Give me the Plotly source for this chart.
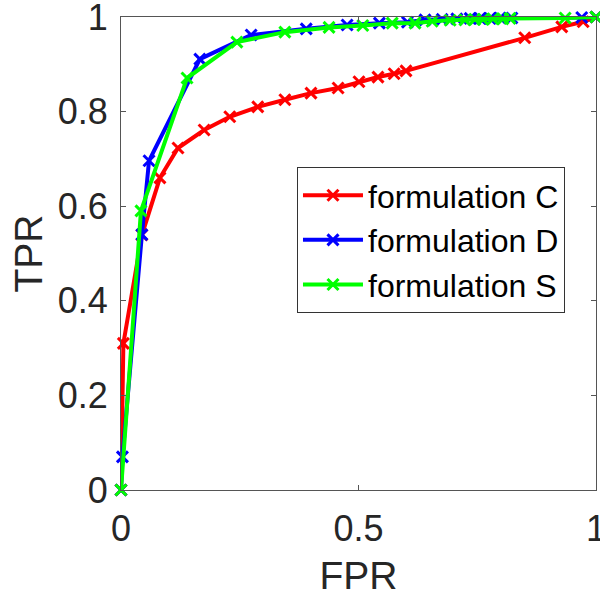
import plotly.graph_objects as go

names = ["formulation C", "formulation D", "formulation S"]
colors = ["#ff0000", "#0000ff", "#00ff00"]

fpr_c = [0.0, 0.005, 0.044, 0.082, 0.120, 0.175, 0.229, 0.288, 0.345, 0.400, 0.457, 0.501, 0.541, 0.575, 0.600, 0.850, 0.928, 0.973, 1.0]
tpr_c = [0.0, 0.31, 0.539, 0.660, 0.723, 0.761, 0.789, 0.810, 0.825, 0.839, 0.850, 0.863, 0.873, 0.880, 0.886, 0.956, 0.979, 0.990, 1.0]

fpr_d = [0.0, 0.003, 0.044, 0.059, 0.166, 0.274, 0.390, 0.476, 0.544, 0.603, 0.640, 0.676, 0.707, 0.735, 0.756, 0.777, 0.798, 0.823, 0.970, 1.0]
tpr_d = [0.0, 0.070, 0.540, 0.696, 0.911, 0.962, 0.975, 0.983, 0.987, 0.989, 0.994, 0.995, 0.996, 0.997, 0.997, 0.997, 0.998, 0.998, 0.999, 1.0]

fpr_s = [0.0, 0.042, 0.139, 0.244, 0.345, 0.438, 0.509, 0.571, 0.619, 0.655, 0.693, 0.724, 0.745, 0.762, 0.783, 0.804, 0.819, 0.935, 1.0]
tpr_s = [0.0, 0.590, 0.871, 0.947, 0.968, 0.978, 0.982, 0.987, 0.987, 0.991, 0.993, 0.994, 0.995, 0.995, 0.996, 0.996, 0.997, 0.998, 1.0]

x_ticks = [0, 0.5, 1]
x_tick_text = ["0", "0.5", "1"]
y_ticks = [0, 0.2, 0.4, 0.6, 0.8, 1]
y_tick_text = ["0", "0.2", "0.4", "0.6", "0.8", "1"]

FONT = "Liberation Sans, Arial, Helvetica, sans-serif"
TXT = "#262626"

fig = go.Figure()
for name, col, xs, ys in zip(names, colors, [fpr_c, fpr_d, fpr_s], [tpr_c, tpr_d, tpr_s]):
    fig.add_trace(go.Scatter(
        x=xs, y=ys, mode="lines+markers", name=name,
        line=dict(color=col, width=4),
        marker=dict(symbol="x-thin", size=11, color=col, line=dict(color=col, width=3)),
        cliponaxis=False,
    ))

axis_common = dict(
    showgrid=False, zeroline=False, automargin=False,
    showline=True, linecolor="#555555", linewidth=1, mirror="ticks",
    ticks="inside", ticklen=5, tickcolor="#555555", tickwidth=1,
    tickfont=dict(family=FONT, size=36, color=TXT),
    ticklabeloverflow="allow",
)

fig.update_layout(
    width=600, height=599,
    margin=dict(l=121, r=4, t=17, b=109),
    paper_bgcolor="white", plot_bgcolor="white",
    font=dict(family=FONT, color=TXT),
    xaxis=dict(range=[0, 1], tickvals=x_ticks, ticktext=x_tick_text,
               title=dict(text="FPR", font=dict(family=FONT, size=39, color=TXT), standoff=13),
               ticklabelstandoff=7, **axis_common),
    yaxis=dict(range=[0, 1], tickvals=y_ticks, ticktext=y_tick_text,
               title=dict(text="TPR", font=dict(family=FONT, size=39, color=TXT), standoff=3),
               ticklabelstandoff=5, **axis_common),
    legend=dict(x=0.3705, y=0.683, xanchor="left", yanchor="top",
                bordercolor="#333333", borderwidth=1, bgcolor="white",
                font=dict(family=FONT, size=32, color="#000000"),
                tracegroupgap=0, itemwidth=60, entrywidth=234),
    showlegend=True,
)

fig.write_html("out.html", config={"displayModeBar": False},
               post_script="document.body.style.margin='0';document.body.style.overflow='hidden';")
